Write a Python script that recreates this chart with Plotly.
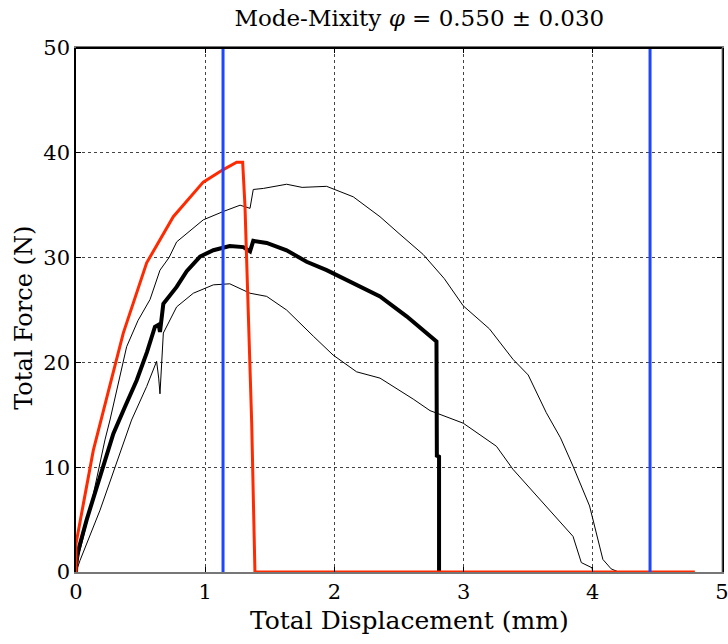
import plotly.graph_objects as go

# ---- data ----
red_x = [0, 0, 0.057, 0.134, 0.25, 0.366, 0.547, 0.753, 0.985, 1.14, 1.244, 1.29, 1.308, 1.334, 1.36, 1.385, 4.79]
red_y = [0, 2.7, 6.5, 11.6, 17.2, 22.8, 29.5, 33.9, 37.2, 38.4, 39.1, 39.1, 34.9, 25.3, 14.2, 0, 0]

avg_x = [0, 0.005, 0.083, 0.211, 0.289, 0.38, 0.47, 0.55, 0.611, 0.64, 0.65, 0.676, 0.779, 0.857,
         0.96, 1.063, 1.19, 1.295, 1.347, 1.372, 1.476, 1.63, 1.785, 1.94, 2.146, 2.353, 2.559,
         2.687, 2.79, 2.793, 2.81, 2.81]
avg_y = [0, 1.5, 5.0, 10.0, 13.2, 15.8, 18.3, 21.0, 23.4, 23.6, 22.9, 25.6, 27.2, 28.7,
         30.1, 30.7, 31.1, 31.0, 30.6, 31.6, 31.4, 30.7, 29.6, 28.8, 27.5, 26.3, 24.4,
         23.0, 22.0, 11.1, 11.0, 0]

up_x = [0, 0.03, 0.108, 0.224, 0.263, 0.392, 0.48, 0.573, 0.65, 0.72, 0.779, 0.88, 0.985, 1.14,
        1.27, 1.347, 1.372, 1.45, 1.63, 1.75, 1.94, 2.146, 2.353, 2.5, 2.687, 2.85, 2.997, 3.2,
        3.382, 3.5, 3.64, 3.75, 3.847, 3.975, 4.026, 4.078, 4.142, 4.2]
up_y = [0, 2.0, 5.9, 12.6, 14.5, 21.5, 24.0, 26.0, 28.8, 30.0, 31.5, 32.5, 33.6, 34.4,
        35.0, 34.7, 36.5, 36.6, 37.0, 36.7, 36.8, 35.8, 33.9, 32.3, 30.3, 28.0, 25.4, 23.2,
        20.3, 18.8, 15.2, 12.8, 10.1, 6.3, 3.8, 1.2, 0.3, 0]

lo_x = [0, 0.031, 0.186, 0.34, 0.43, 0.547, 0.624, 0.64, 0.65, 0.676, 0.779, 0.908, 1.063, 1.19,
        1.347, 1.476, 1.63, 1.837, 1.99, 2.172, 2.353, 2.61, 2.74, 2.997, 3.254, 3.382, 3.5,
        3.64, 3.847, 3.911, 3.994, 4.0]
lo_y = [0, 1.1, 5.9, 11.3, 14.5, 17.7, 20.1, 18.5, 17.0, 22.8, 25.3, 26.6, 27.4, 27.5,
        26.6, 26.3, 25.0, 22.5, 20.7, 19.1, 18.5, 16.5, 15.4, 14.2, 12.0, 9.8, 8.2,
        6.3, 3.4, 0.9, 0.4, 0]

blue_x = [1.138, 4.443]
y_range = [0, 50]

x_ticks = [0, 1, 2, 3, 4, 5]
y_ticks = [0, 10, 20, 30, 40, 50]

FONT = "DejaVu Serif"

fig = go.Figure()
fig.add_trace(go.Scatter(x=up_x, y=up_y, mode="lines", line=dict(color="black", width=1)))
fig.add_trace(go.Scatter(x=lo_x, y=lo_y, mode="lines", line=dict(color="black", width=1)))
fig.add_trace(go.Scatter(x=avg_x, y=avg_y, mode="lines", line=dict(color="black", width=4)))
fig.add_trace(go.Scatter(x=red_x, y=red_y, mode="lines", line=dict(color="#ff2a00", width=3)))
for bx in blue_x:
    fig.add_trace(go.Scatter(x=[bx, bx], y=y_range, mode="lines",
                             line=dict(color="#1e46ff", width=3)))

axis_common = dict(
    showgrid=True, gridcolor="#444", griddash="dot", gridwidth=1,
    ticks="inside", ticklen=5, tickcolor="black", tickwidth=1,
    zeroline=False, showline=True, mirror="ticks", automargin=False,
    ticklabeloverflow="allow",
    tickfont=dict(family=FONT, size=21, color="black"),
)

fig.update_layout(
    width=728, height=644,
    margin=dict(l=76, r=6, t=48, b=72),
    paper_bgcolor="white", plot_bgcolor="white",
    showlegend=False,
    title=dict(text="Mode-Mixity <i>φ</i> = 0.550 ± 0.030", x=0.576, xanchor="center",
               y=0.972, yanchor="middle", font=dict(family=FONT, size=23, color="black")),
    xaxis=dict(range=[0, 5], tickvals=x_ticks, linecolor="#777", linewidth=2, **axis_common),
    yaxis=dict(range=[0, 50], tickvals=y_ticks, linecolor="black", linewidth=1.5, **axis_common),
)

fig.add_annotation(text="Total Displacement (mm)", xref="paper", yref="paper",
                   x=0.517, y=-0.0935, xanchor="center", yanchor="middle", showarrow=False,
                   font=dict(family=FONT, size=25, color="black"))
fig.add_annotation(text="Total Force (N)", xref="paper", yref="paper", textangle=-90,
                   x=-0.0805, y=0.485, xanchor="center", yanchor="middle", showarrow=False,
                   font=dict(family=FONT, size=24, color="black"))

fig.add_shape(type="line", xref="paper", yref="paper", x0=0, x1=1, y0=1, y1=1,
              line=dict(color="black", width=2))
fig.add_shape(type="line", xref="paper", yref="paper", x0=1, x1=1, y0=0, y1=1,
              line=dict(color="#888", width=1))

fig.write_html("out.html")
